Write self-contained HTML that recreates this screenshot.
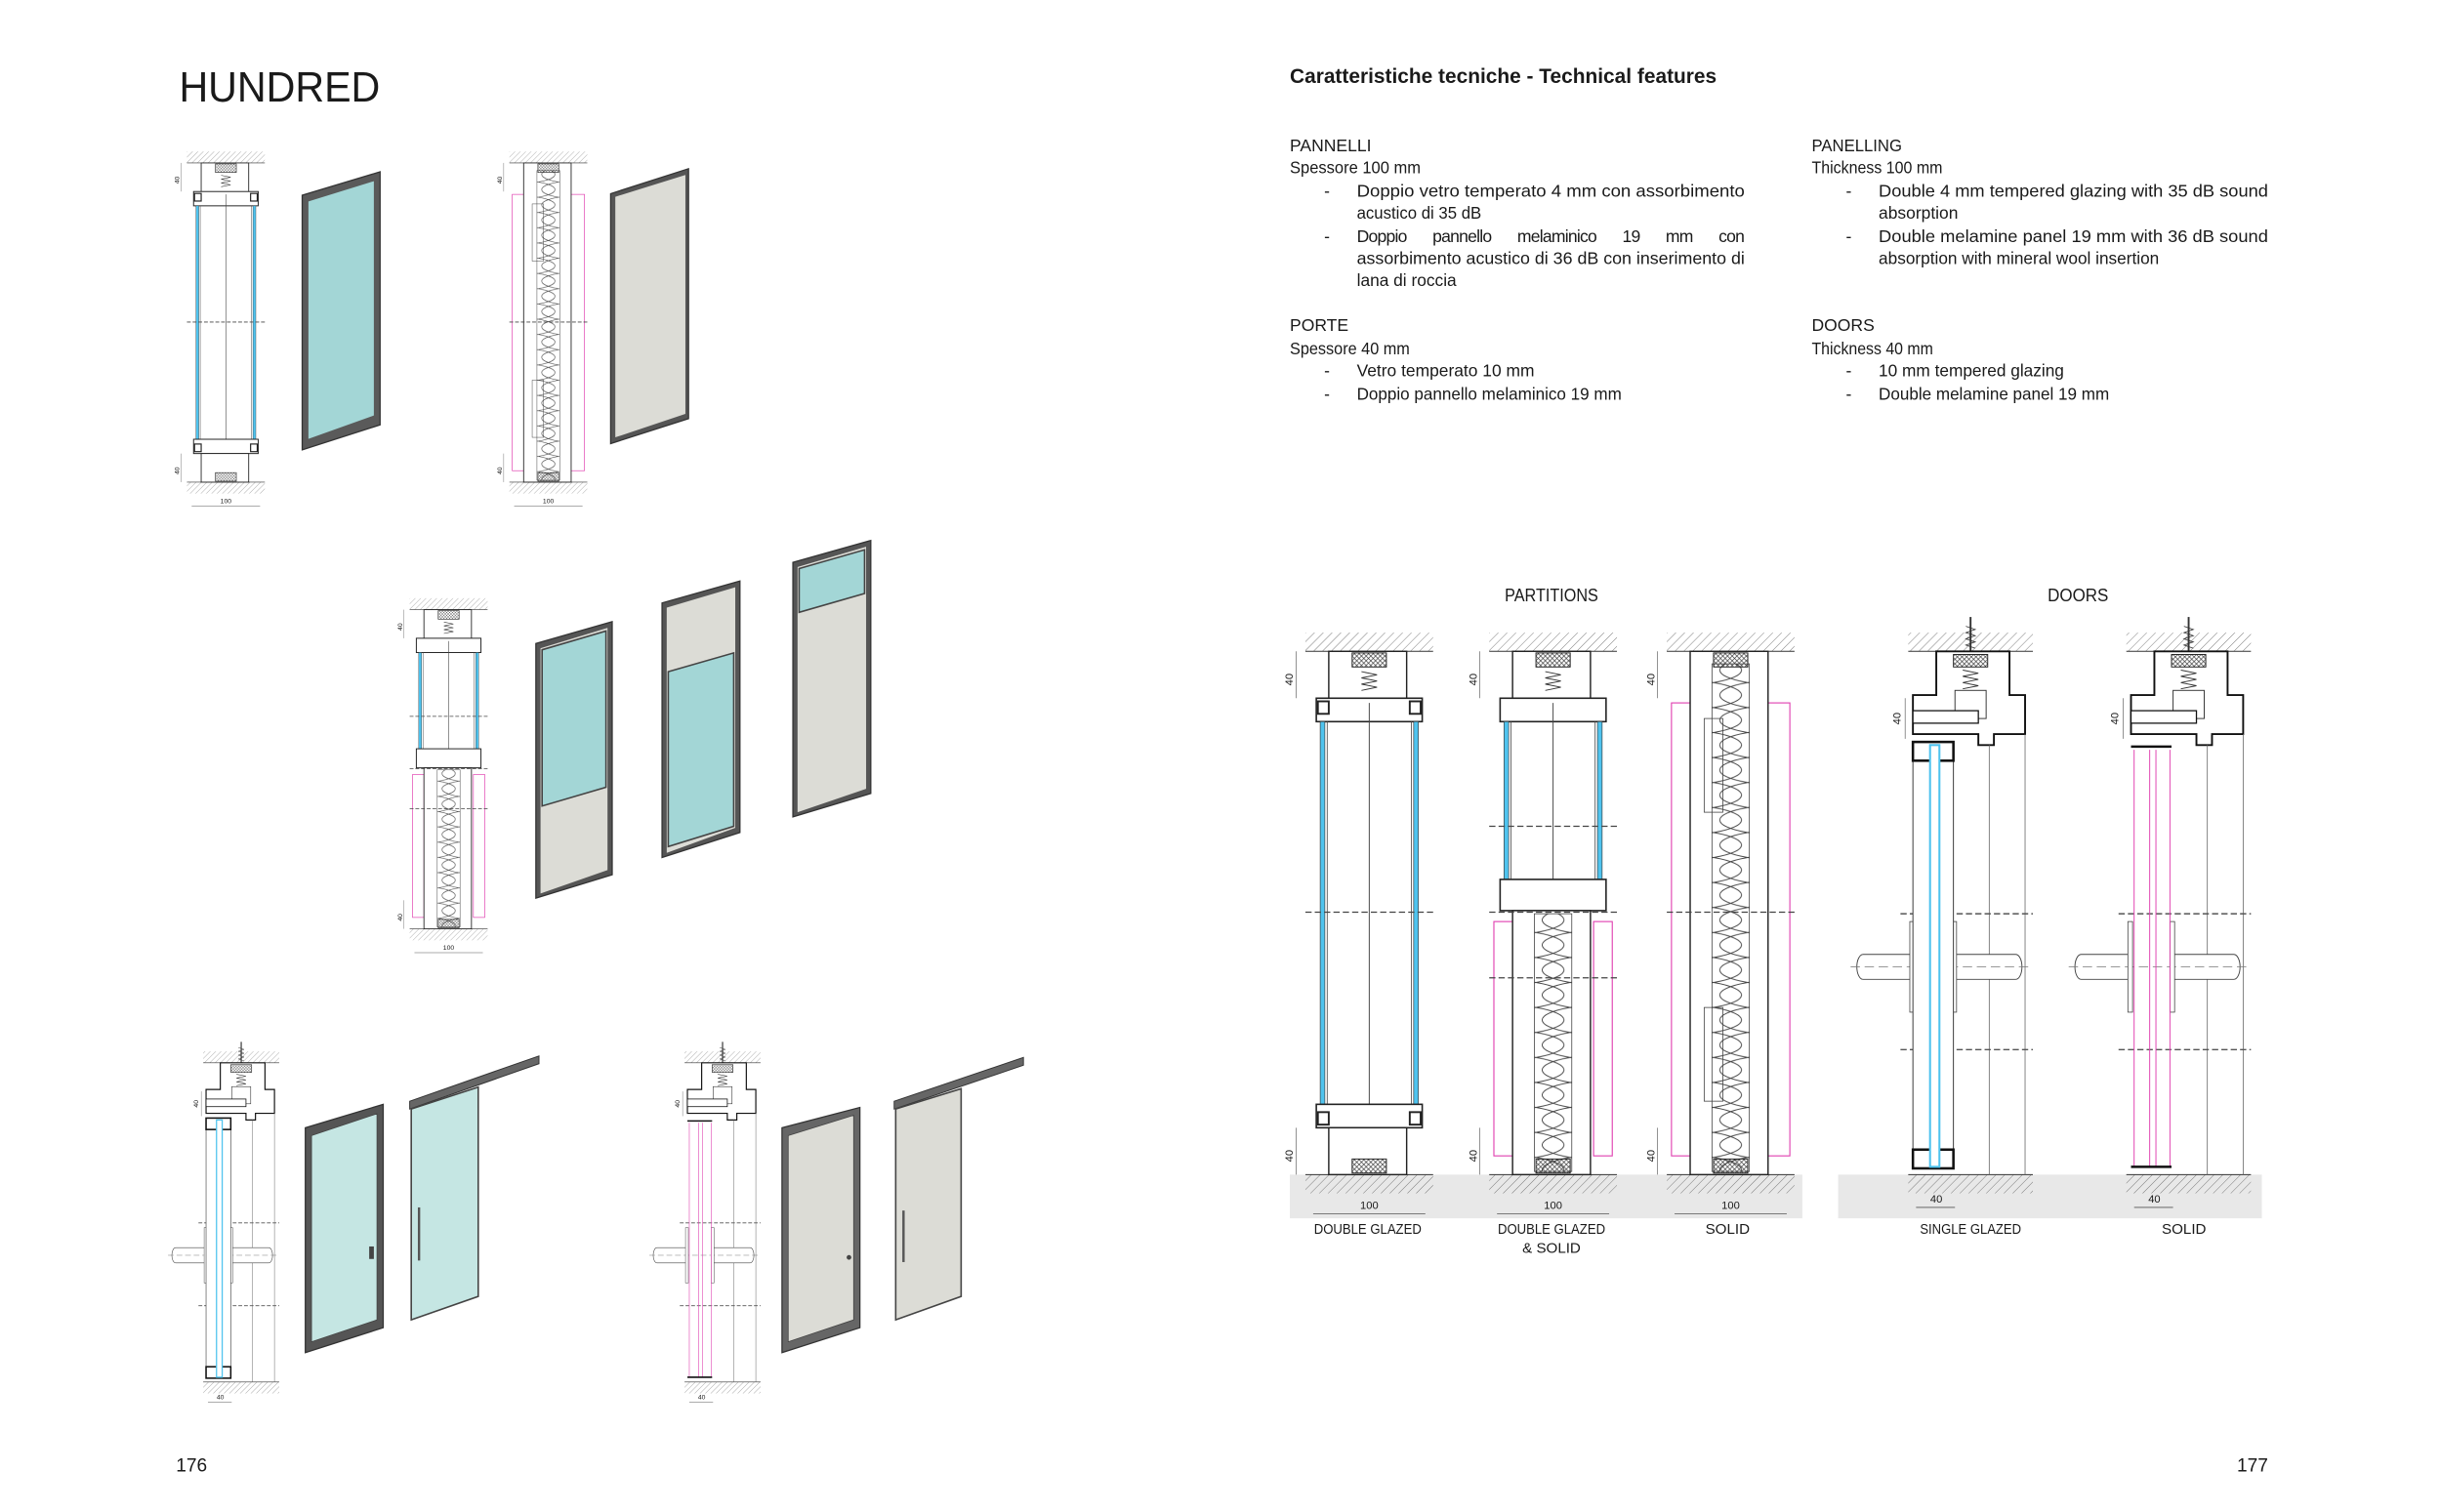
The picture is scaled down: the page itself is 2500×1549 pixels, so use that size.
<!DOCTYPE html>
<html><head><meta charset="utf-8"><style>
html,body{margin:0;padding:0;background:#fff;}
svg{display:block;}
text{font-family:"Liberation Sans",sans-serif;fill:#1a1a1a;}
</style></head><body>
<svg width="2500" height="1549" viewBox="0 0 1567 968" preserveAspectRatio="none" xmlns="http://www.w3.org/2000/svg">
<defs>
<pattern id="h" width="4" height="4" patternUnits="userSpaceOnUse" patternTransform="rotate(45)"><line x1="0" y1="0" x2="0" y2="4" stroke="#777" stroke-width="0.6"/></pattern>
<pattern id="x" width="3" height="3" patternUnits="userSpaceOnUse"><path d="M0,0L3,3M3,0L0,3" stroke="#333" stroke-width="0.4"/></pattern>
<pattern id="w" width="22" height="16" patternUnits="userSpaceOnUse" x="30"><path d="M0,0C24,4 24,12 0,16M22,0C-2,4 -2,12 22,16" stroke="#444" stroke-width="0.6" fill="none"/></pattern>

<g id="tb">
 <rect x="0" y="0" width="82" height="12" fill="url(#h)"/><line x1="0" y1="12" x2="82" y2="12" stroke="#333" stroke-width="0.6"/>
 <rect x="0" y="347" width="82" height="12" fill="url(#h)"/><line x1="0" y1="347" x2="82" y2="347" stroke="#333" stroke-width="0.6"/>
 <line x1="-6" y1="12" x2="-6" y2="42" stroke="#555" stroke-width="0.4"/><line x1="-6" y1="317" x2="-6" y2="347" stroke="#555" stroke-width="0.4"/>
 <text x="-8" y="30" font-size="7" transform="rotate(-90 -8 30)" text-anchor="middle">40</text>
 <text x="-8" y="335" font-size="7" transform="rotate(-90 -8 335)" text-anchor="middle">40</text>
 <line x1="5" y1="372" x2="77" y2="372" stroke="#555" stroke-width="0.5"/>
 <text x="41" y="369" font-size="7" text-anchor="middle">100</text>
</g>

<g id="pdg">
 <use href="#tb"/>
 <rect x="15" y="12" width="50" height="33" fill="#fff" stroke="#222" stroke-width="0.9"/>
 <rect x="30" y="13" width="22" height="9" fill="url(#x)" stroke="#222" stroke-width="0.6"/>
 <polyline points="36,25 46,27 36,29 46,31 36,33 46,35 36,37" fill="none" stroke="#333" stroke-width="0.6"/>
 <rect x="7" y="42" width="68" height="15" fill="#fff" stroke="#222" stroke-width="1"/>
 <rect x="8" y="44" width="7" height="8" fill="none" stroke="#222" stroke-width="1.2"/><rect x="67" y="44" width="7" height="8" fill="none" stroke="#222" stroke-width="1.2"/>
 <rect x="9.5" y="57" width="3" height="250" fill="#4fc3ee" stroke="#333" stroke-width="0.4"/>
 <rect x="69.5" y="57" width="3" height="250" fill="#4fc3ee" stroke="#333" stroke-width="0.4"/>
 <line x1="14" y1="57" x2="14" y2="302" stroke="#444" stroke-width="0.5"/><line x1="68" y1="57" x2="68" y2="302" stroke="#444" stroke-width="0.5"/>
 <line x1="41" y1="45" x2="41" y2="335" stroke="#444" stroke-width="0.6"/>
 <rect x="7" y="302" width="68" height="15" fill="#fff" stroke="#222" stroke-width="1"/>
 <rect x="8" y="307" width="7" height="8" fill="none" stroke="#222" stroke-width="1.2"/><rect x="67" y="307" width="7" height="8" fill="none" stroke="#222" stroke-width="1.2"/>
 <rect x="15" y="317" width="50" height="30" fill="#fff" stroke="#222" stroke-width="0.9"/>
 <rect x="30" y="337" width="22" height="9" fill="url(#x)" stroke="#222" stroke-width="0.6"/>
 <line x1="0" y1="179" x2="82" y2="179" stroke="#444" stroke-width="0.8" stroke-dasharray="4,2"/>
</g>

<g id="psol">
 <use href="#tb"/>
 <rect x="3" y="45" width="76" height="290" fill="none" stroke="#e040b0" stroke-width="0.7"/>
 <rect x="15" y="12" width="50" height="335" fill="#fff" stroke="#222" stroke-width="0.9"/>
 <rect x="29" y="20" width="24" height="325" fill="url(#w)" stroke="#444" stroke-width="0.5"/>
 <rect x="30" y="13" width="22" height="9" fill="url(#x)" stroke="#222" stroke-width="0.6"/>
 <rect x="30" y="337" width="22" height="9" fill="url(#x)" stroke="#222" stroke-width="0.6"/>
 <rect x="24" y="55" width="12" height="60" fill="none" stroke="#444" stroke-width="0.5"/>
 <rect x="24" y="240" width="12" height="60" fill="none" stroke="#444" stroke-width="0.5"/>
 <line x1="0" y1="179" x2="82" y2="179" stroke="#444" stroke-width="0.8" stroke-dasharray="4,2"/>
</g>

<g id="pmix">
 <use href="#tb"/>
 <rect x="15" y="12" width="50" height="33" fill="#fff" stroke="#222" stroke-width="0.9"/>
 <rect x="30" y="13" width="22" height="9" fill="url(#x)" stroke="#222" stroke-width="0.6"/>
 <polyline points="36,25 46,27 36,29 46,31 36,33 46,35 36,37" fill="none" stroke="#333" stroke-width="0.6"/>
 <rect x="7" y="42" width="68" height="15" fill="#fff" stroke="#222" stroke-width="1"/>
 <rect x="9.5" y="57" width="3" height="103" fill="#4fc3ee" stroke="#333" stroke-width="0.4"/>
 <rect x="69.5" y="57" width="3" height="103" fill="#4fc3ee" stroke="#333" stroke-width="0.4"/>
 <line x1="14" y1="57" x2="14" y2="158" stroke="#444" stroke-width="0.5"/><line x1="68" y1="57" x2="68" y2="158" stroke="#444" stroke-width="0.5"/>
 <line x1="41" y1="45" x2="41" y2="158" stroke="#444" stroke-width="0.6"/>
 <line x1="0" y1="124" x2="82" y2="124" stroke="#444" stroke-width="0.8" stroke-dasharray="4,2"/>
 <rect x="7" y="158" width="68" height="20" fill="#fff" stroke="#222" stroke-width="1"/>
 <rect x="3" y="185" width="12" height="150" fill="none" stroke="#e040b0" stroke-width="0.7"/>
 <rect x="67" y="185" width="12" height="150" fill="none" stroke="#e040b0" stroke-width="0.7"/>
 <rect x="15" y="178" width="50" height="169" fill="#fff" stroke="#222" stroke-width="0.9"/>
 <rect x="29" y="180" width="24" height="165" fill="url(#w)" stroke="#444" stroke-width="0.5"/>
 <rect x="30" y="337" width="22" height="9" fill="url(#x)" stroke="#222" stroke-width="0.6"/>
 <line x1="0" y1="179" x2="82" y2="179" stroke="#444" stroke-width="0.8" stroke-dasharray="4,2"/>
 <line x1="0" y1="221" x2="82" y2="221" stroke="#444" stroke-width="0.8" stroke-dasharray="4,2"/>
</g>

<g id="dtop">
 <rect x="45" y="10" width="80" height="12" fill="url(#h)"/><line x1="45" y1="22" x2="125" y2="22" stroke="#333" stroke-width="0.6"/>
 <rect x="45" y="357" width="80" height="12" fill="url(#h)"/><line x1="45" y1="357" x2="125" y2="357" stroke="#333" stroke-width="0.6"/>
 <line x1="85" y1="0" x2="85" y2="32" stroke="#333" stroke-width="1.2"/><polyline points="82,6 88,8 82,10 88,12 82,14 88,16 82,18 88,20" fill="none" stroke="#333" stroke-width="0.5"/>
 <path d="M63,50 V22 H110 V50 H120 V75 H100 V82 H90 V75 H48 V50 Z" fill="#fff" stroke="#111" stroke-width="1.2"/>
 <rect x="74" y="24" width="22" height="8" fill="url(#x)" stroke="#222" stroke-width="0.6"/>
 <polyline points="80,34 90,36 80,38 90,40 80,42 90,44 80,46" fill="none" stroke="#333" stroke-width="0.6"/>
 <rect x="75" y="47" width="20" height="18" fill="none" stroke="#333" stroke-width="0.6"/>
 <rect x="48" y="60" width="42" height="8" fill="#fff" stroke="#111" stroke-width="0.8"/>
 <line x1="97" y1="82" x2="97" y2="357" stroke="#666" stroke-width="0.5"/>
 <line x1="120" y1="75" x2="120" y2="357" stroke="#666" stroke-width="0.5"/>
 <line x1="40" y1="190" x2="125" y2="190" stroke="#555" stroke-width="0.9" stroke-dasharray="4,2"/>
 <line x1="40" y1="277" x2="125" y2="277" stroke="#555" stroke-width="0.9" stroke-dasharray="4,2"/>
 <path d="M48,216 H16 A4,8 0 0 0 16,232 H48" fill="#fff" stroke="#444" stroke-width="0.6"/>
 <path d="M74,216 H114 A4,8 0 0 1 114,232 H74" fill="#fff" stroke="#444" stroke-width="0.6"/>
 <line x1="8" y1="224" x2="125" y2="224" stroke="#777" stroke-width="0.5" stroke-dasharray="6,3"/>
 <rect x="46" y="195" width="3" height="58" fill="#fff" stroke="#444" stroke-width="0.5"/>
 <rect x="73" y="195" width="3" height="58" fill="#fff" stroke="#444" stroke-width="0.5"/>
 <line x1="43" y1="52" x2="43" y2="78" stroke="#555" stroke-width="0.4"/>
 <text x="40" y="65" font-size="7" transform="rotate(-90 40 65)" text-anchor="middle">40</text>
 <line x1="50" y1="378" x2="75" y2="378" stroke="#555" stroke-width="0.5"/>
 <text x="63" y="375" font-size="7" text-anchor="middle">40</text>
</g>
<g id="dsg">
 <use href="#dtop"/>
 <rect x="48" y="80" width="26" height="273" fill="#fff" stroke="#333" stroke-width="0.6"/>
 <rect x="48" y="80" width="26" height="12" fill="none" stroke="#111" stroke-width="1.6"/>
 <rect x="48" y="341" width="26" height="12" fill="none" stroke="#111" stroke-width="1.6"/>
 <rect x="59" y="82" width="6" height="270" fill="#fff" stroke="#4fc3ee" stroke-width="1.3"/>
</g>
<g id="dsol">
 <use href="#dtop"/>
 <line x1="50" y1="85" x2="50" y2="352" stroke="#e040b0" stroke-width="0.6"/>
 <line x1="60" y1="85" x2="60" y2="352" stroke="#e040b0" stroke-width="0.6"/>
 <line x1="64" y1="85" x2="64" y2="352" stroke="#e040b0" stroke-width="0.6"/>
 <line x1="73" y1="85" x2="73" y2="352" stroke="#e040b0" stroke-width="0.6"/>
 <line x1="48" y1="83" x2="74" y2="83" stroke="#111" stroke-width="1.6"/>
 <line x1="48" y1="352" x2="74" y2="352" stroke="#111" stroke-width="1.6"/>
</g>
</defs>

<text x="115" y="65" font-size="27" textLength="129" lengthAdjust="spacingAndGlyphs">HUNDRED</text>

<use href="#pdg" transform="translate(120,97) scale(0.61)"/>
<use href="#psol" transform="translate(327,97) scale(0.61)"/>
<use href="#pmix" transform="translate(263,383) scale(0.61)"/>
<use href="#dsg" transform="translate(103,667) scale(0.61)"/>
<use href="#dsol" transform="translate(412,667) scale(0.61)"/>

<polygon points="194,125 244,110 244,272 194,288" fill="#5a5a5a" stroke="#333" stroke-width="0.8"/>
<polygon points="198,129 240,116 240,266 198,281" fill="#a3d6d6"/>
<polygon points="392,124 442,108 442,268 392,284" fill="#555" stroke="#333" stroke-width="0.8"/>
<polygon points="395,126 440,112 440,265 395,280" fill="#dcdcd6"/>
<polygon points="344,412 393,398 393,560 344,575" fill="#555" stroke="#333" stroke-width="0.8"/>
<polygon points="347,415 390,402 390,557 347,572" fill="#dcdcd6"/>
<polygon points="348,416 389,404 389,504 348,516" fill="#a3d6d6" stroke="#444" stroke-width="1"/>
<polygon points="425,386 475,372 475,533 425,549" fill="#555" stroke="#333" stroke-width="0.8"/>
<polygon points="428,389 472,376 472,530 428,546" fill="#dcdcd6"/>
<polygon points="429,430 471,418 471,529 429,542" fill="#a3d6d6" stroke="#444" stroke-width="1"/>
<polygon points="509,360 559,346 559,508 509,523" fill="#555" stroke="#333" stroke-width="0.8"/>
<polygon points="512,363 556,350 556,505 512,520" fill="#dcdcd6"/>
<polygon points="513,364 555,352 555,380 513,392" fill="#a3d6d6" stroke="#444" stroke-width="1"/>
<polygon points="196,722 246,707 246,850 196,866" fill="#555" stroke="#333" stroke-width="0.8"/>
<polygon points="200,727 242,713 242,845 200,859" fill="#c5e6e3" stroke="#444" stroke-width="0.5"/>
<rect x="237" y="798" width="3" height="8" fill="#444"/>
<polygon points="263,705 346,676 346,681 263,710" fill="#666" stroke="#333" stroke-width="0.6"/>
<polygon points="264,710 307,696 307,830 264,845" fill="#c5e6e3" stroke="#444" stroke-width="1"/>
<line x1="269" y1="773" x2="269" y2="807" stroke="#555" stroke-width="1.5"/>
<polygon points="502,722 552,709 552,850 502,866" fill="#666" stroke="#333" stroke-width="0.8"/>
<polygon points="506,727 548,714 548,845 506,859" fill="#dcdcd6" stroke="#444" stroke-width="0.5"/>
<circle cx="545" cy="805" r="1.5" fill="#444"/>
<polygon points="574,705 657,677 657,682 574,710" fill="#666" stroke="#333" stroke-width="0.6"/>
<polygon points="575,710 617,697 617,830 575,845" fill="#dcdcd6" stroke="#444" stroke-width="1"/>
<line x1="580" y1="775" x2="580" y2="808" stroke="#555" stroke-width="1.5"/>

<text x="113" y="942" font-size="12">176</text>

<text x="828" y="53" font-size="13.5" font-weight="bold" textLength="274" lengthAdjust="spacingAndGlyphs">Caratteristiche tecniche - Technical features</text>
<g font-size="11">
<text x="828" y="97">PANNELLI</text>
<text x="828" y="111" textLength="84" lengthAdjust="spacingAndGlyphs">Spessore 100 mm</text>
<text x="850" y="126">-</text><text x="871" y="126" textLength="249" lengthAdjust="spacingAndGlyphs">Doppio vetro temperato 4 mm con assorbimento</text>
<text x="871" y="140" textLength="80" lengthAdjust="spacingAndGlyphs">acustico di 35 dB</text>
<text x="850" y="155">-</text><text x="871" y="155" textLength="249" lengthAdjust="spacing" word-spacing="14">Doppio pannello melaminico 19 mm con</text>
<text x="871" y="169" textLength="249" lengthAdjust="spacingAndGlyphs">assorbimento acustico di 36 dB con inserimento di</text>
<text x="871" y="183" textLength="64" lengthAdjust="spacingAndGlyphs">lana di roccia</text>
<text x="828" y="212">PORTE</text>
<text x="828" y="227" textLength="77" lengthAdjust="spacingAndGlyphs">Spessore 40 mm</text>
<text x="850" y="241">-</text><text x="871" y="241" textLength="114" lengthAdjust="spacingAndGlyphs">Vetro temperato 10 mm</text>
<text x="850" y="256">-</text><text x="871" y="256" textLength="170" lengthAdjust="spacingAndGlyphs">Doppio pannello melaminico 19 mm</text>

<text x="1163" y="97" textLength="58" lengthAdjust="spacingAndGlyphs">PANELLING</text>
<text x="1163" y="111" textLength="84" lengthAdjust="spacingAndGlyphs">Thickness 100 mm</text>
<text x="1185" y="126">-</text><text x="1206" y="126" textLength="250" lengthAdjust="spacingAndGlyphs">Double 4 mm tempered glazing with 35 dB sound</text>
<text x="1206" y="140" textLength="51" lengthAdjust="spacingAndGlyphs">absorption</text>
<text x="1185" y="155">-</text><text x="1206" y="155" textLength="250" lengthAdjust="spacingAndGlyphs">Double melamine panel 19 mm with 36 dB sound</text>
<text x="1206" y="169" textLength="180" lengthAdjust="spacingAndGlyphs">absorption with mineral wool insertion</text>
<text x="1163" y="212">DOORS</text>
<text x="1163" y="227" textLength="78" lengthAdjust="spacingAndGlyphs">Thickness 40 mm</text>
<text x="1185" y="241">-</text><text x="1206" y="241" textLength="119" lengthAdjust="spacingAndGlyphs">10 mm tempered glazing</text>
<text x="1185" y="256">-</text><text x="1206" y="256" textLength="148" lengthAdjust="spacingAndGlyphs">Double melamine panel 19 mm</text>
</g>

<text x="996" y="385" font-size="11.5" text-anchor="middle" textLength="60" lengthAdjust="spacingAndGlyphs">PARTITIONS</text>
<text x="1334" y="385" font-size="11.5" text-anchor="middle" textLength="39" lengthAdjust="spacingAndGlyphs">DOORS</text>

<rect x="828" y="752" width="329" height="28" fill="#e8e8e8"/>
<rect x="1180" y="752" width="272" height="28" fill="#e8e8e8"/>

<use href="#pdg" transform="translate(838,405)"/>
<use href="#pmix" transform="translate(956,405)"/>
<use href="#psol" transform="translate(1070,405)"/>
<use href="#dsg" transform="translate(1180,395)"/>
<use href="#dsol" transform="translate(1320,395)"/>

<g font-size="9.5" text-anchor="middle">
<text x="878" y="790" textLength="69" lengthAdjust="spacingAndGlyphs">DOUBLE GLAZED</text>
<text x="996" y="790" textLength="69" lengthAdjust="spacingAndGlyphs">DOUBLE GLAZED</text>
<text x="996" y="802">&amp; SOLID</text>
<text x="1109" y="790">SOLID</text>
<text x="1265" y="790" textLength="65" lengthAdjust="spacingAndGlyphs">SINGLE GLAZED</text>
<text x="1402" y="790">SOLID</text>
</g>

<text x="1436" y="942" font-size="12">177</text>
</svg>
</body></html>
